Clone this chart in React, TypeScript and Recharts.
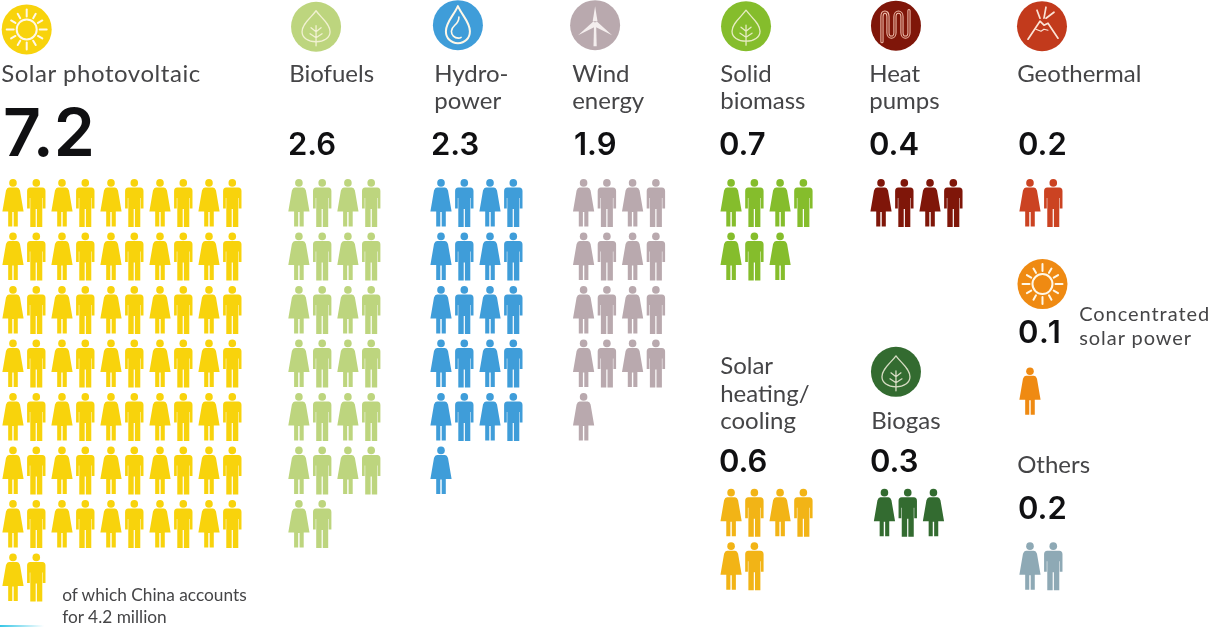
import React from "react";
import { Scatter, ScatterChart, XAxis, YAxis } from "recharts";

const WIDTH = 1217;
const HEIGHT = 627;
const COL_PITCH = 24.5;
const ROW_PITCH = 53.5;

// millions of jobs, one figure per person = 0.1 million
const categories = [
  "Solar photovoltaic",
  "Biofuels",
  "Hydropower",
  "Wind energy",
  "Solid biomass",
  "Heat pumps",
  "Geothermal",
  "Solar heating/cooling",
  "Biogas",
  "Concentrated solar power",
  "Others",
];
const jobLabels = ["7.2", "2.6", "2.3", "1.9", "0.7", "0.4", "0.2", "0.6", "0.3", "0.1", "0.2"];
const peopleDrawn = [72, 26, 21, 17, 7, 4, 2, 6, 3, 1, 2];
const peoplePerRow = [10, 4, 4, 4, 4, 4, 4, 4, 4, 4, 4];

// where each block of people starts, in axis units (columns, rows)
const firstColumn = [0.53, 12.2, 18.0, 23.82, 29.84, 35.96, 42.04, 29.84, 36.1, 42.04, 42.04];
const firstRow = [3.83, 3.83, 3.83, 3.83, 3.83, 3.83, 3.83, 9.62, 9.62, 7.35, 10.62];

const colors = [
  "#f8d30c",
  "#bdd57e",
  "#3f9dd9",
  "#b9a9ae",
  "#85bd2c",
  "#7f1609",
  "#cb4322",
  "#f2b416",
  "#336b30",
  "#ef8a12",
  "#8ea9b5",
];

const iconKinds = ["sun", "leaf", "drop", "turbine", "leaf", "heat", "volcano", "sun", "leaf"];
const iconCategory = [0, 1, 2, 3, 4, 5, 6, 9, 8];
const iconColumn = [1.09, 12.9, 18.69, 24.29, 30.45, 36.57, 42.53, 42.55, 36.57];
const iconRow = [0.55, 0.5, 0.47, 0.47, 0.49, 0.48, 0.49, 5.31, 6.95];
const iconColors = ["#f8d30c", "#bdd57e", "#3f9dd9", "#b9a9ae", "#85bd2c", "#7f1609", "#c23a1c", "#ef8a12", "#336b30"];

const people = categories.map((name, c) =>
  Array.from({ length: peopleDrawn[c] }, (_, i) => ({
    name,
    col: firstColumn[c] + (i % peoplePerRow[c]),
    row: firstRow[c] + Math.floor(i / peoplePerRow[c]),
    female: i % 2 === 0,
  })),
);

const icons = iconKinds.map((kind, i) => ({
  kind,
  name: categories[iconCategory[i]],
  col: iconColumn[i],
  row: iconRow[i],
  fill: iconColors[i],
}));

function Person({ cx, cy, payload, fill }: any) {
  if (payload.female) {
    return (
      <g transform={`translate(${cx},${cy})`} fill={fill}>
        <circle cx={0} cy={-22} r={3.8} />
        <path d="M-4,-17.5 L4,-17.5 Q6,-17.5 7,-14.5 L10.6,6.5 L4.8,6.5 L4.8,21.5 L0.7,21.5 L0.7,7 L-0.7,7 L-0.7,21.5 L-4.8,21.5 L-4.8,6.5 L-10.6,6.5 L-7,-14.5 Q-6,-17.5 -4,-17.5 Z" />
      </g>
    );
  }
  return (
    <g transform={`translate(${cx - 1.2},${cy})`} fill={fill}>
      <circle cx={0} cy={-22} r={3.8} />
      <path d="M-6,-17.5 L6,-17.5 Q9.2,-17.5 9.2,-14 L9.2,3.5 L6.5,3.5 L6.5,-7 L6,-7 L6,22 L0.6,22 L0.6,4 L-0.6,4 L-0.6,22 L-6,22 L-6,-7 L-6.5,-7 L-6.5,3.5 L-9.2,3.5 L-9.2,-14 Q-9.2,-17.5 -6,-17.5 Z" />
    </g>
  );
}

const RAY_ANGLES = [0, 30, 60, 90, 120, 150, 180, 210, 240, 270, 300, 330];

function Glyph({ kind }: { kind: string }) {
  const line = { fill: "none", stroke: "#fff8e8", strokeWidth: 1.7, strokeLinecap: "round", strokeLinejoin: "round" } as const;
  if (kind === "sun") {
    return (
      <g {...line}>
        <circle r={10} strokeWidth={2} />
        {RAY_ANGLES.map((a) => (
          <line key={a} y1={-13} y2={a % 90 === 0 ? -20 : -18} transform={`rotate(${a})`} strokeWidth={2} />
        ))}
      </g>
    );
  }
  if (kind === "leaf") {
    return (
      <g {...line} strokeWidth={1.3} opacity={0.8}>
        <path d="M0,-16 C5,-9 14,-3 14,5 C14,11 8,15 0,15 C-8,15 -14,11 -14,5 C-14,-3 -5,-9 0,-16 Z" />
        <path d="M0,-1 L0,19 M0,5 L5,1 M0,5 L-5,1 M0,11 L6,7 M0,11 L-6,7" />
      </g>
    );
  }
  if (kind === "drop") {
    return (
      <g {...line} strokeWidth={2}>
        <path d="M0,-19 C4,-10 12,-3 12,6 C12,13 7,18 0,18 C-7,18 -12,13 -12,6 C-12,-3 -4,-10 0,-19 Z" />
        <path d="M-6.5,6 C-6.5,10 -3.5,13 0.5,13 C1.5,13 2.5,12.8 3.2,12.3 M1,-8 C1,0 -6.5,0 -6.5,6" strokeWidth={1.6} />
      </g>
    );
  }
  if (kind === "turbine") {
    return (
      <g fill="#f4eeee" stroke="none">
        <path d="M-1,-3 L1,-3 L1.6,21 L-1.6,21 Z" />
        <path d="M-2.4,-4 L0,-19 L2.4,-4 Z" />
        <path d="M1.5,-4 L17,10 L-1,1 Z" />
        <path d="M-1.5,-4 L-17,10 L1,1 Z" />
      </g>
    );
  }
  if (kind === "heat") {
    const tube = "M-14,16 L-14,-9 C-14,-15 -8,-15 -8,-9 L-8,7 C-8,13 -1,13 -1,7 L-1,-9 C-1,-15 6,-15 6,-9 L6,7 C6,13 13,13 13,7 L13,-15";
    return (
      <g fill="none" strokeLinecap="round" strokeLinejoin="round">
        <path d={tube} stroke="#f0bfae" strokeWidth={3.2} />
        <path d={tube} stroke="#8a2414" strokeWidth={1.2} />
      </g>
    );
  }
  return (
    <g {...line} stroke="#fbe3d6">
      <path d="M-14,13 L-2,-5 L2,-1 L6,-3 L16,12" />
      <path d="M-2,-8 L-5,-16 M2,-8 L4,-19 M4,-8 L12,-14" />
      <path d="M-6,3 L-1,5 L2,3 L6,4" strokeWidth={1.2} />
    </g>
  );
}

function Icon({ cx, cy, payload }: any) {
  return (
    <g transform={`translate(${cx},${cy})`}>
      <circle r={25} fill={payload.fill} />
      <Glyph kind={payload.kind} />
    </g>
  );
}

const labelFont = "Lato, 'Noto Sans', sans-serif";
const figureFont = "Inter, 'Noto Sans', sans-serif";

function Label({ x, y, size = 24, spacing = 0, children }: any) {
  return (
    <text x={x - 0.8} y={y} fontFamily={labelFont} fontSize={size} letterSpacing={spacing} fill="#454547">
      {children}
    </text>
  );
}

function Figure({ x, y, size = 31, weight = 600, spacing = 0, children }: any) {
  return (
    <text x={x} y={y} fontFamily={figureFont} fontSize={size} fontWeight={weight} letterSpacing={spacing} fill="#101012">
      {children}
    </text>
  );
}

export default function App() {
  return (
    <div style={{ position: "absolute", left: 0, top: 0, width: WIDTH, height: HEIGHT, background: "#fff", filter: "blur(0.4px)" }}>
      <ScatterChart width={WIDTH} height={HEIGHT} margin={{ top: 0, right: 0, bottom: 0, left: 0 }}>
        <defs>
          <linearGradient id="edgeFade" x1="0" x2="1" y1="0" y2="0">
            <stop offset="0" stopColor="#35c6e6" />
            <stop offset="1" stopColor="#35c6e6" stopOpacity={0} />
          </linearGradient>
        </defs>
        <rect x={0} y={625} width={44} height={2} fill="url(#edgeFade)" />
        <XAxis type="number" dataKey="col" hide domain={[0, WIDTH / COL_PITCH]} />
        <YAxis type="number" dataKey="row" hide reversed domain={[0, HEIGHT / ROW_PITCH]} />
        {people.map((data, c) => (
          <Scatter
            key={categories[c]}
            name={categories[c]}
            data={data}
            isAnimationActive={false}
            shape={(props: any) => <Person {...props} fill={colors[c]} />}
          />
        ))}
        <Scatter name="icons" data={icons} isAnimationActive={false} shape={(props: any) => <Icon {...props} />} />

        <Label x={2} y={82} spacing={0.55}>Solar photovoltaic</Label>
        <Label x={290} y={82}>Biofuels</Label>
        <Label x={435} y={82}>Hydro-</Label>
        <Label x={435} y={109}>power</Label>
        <Label x={573} y={82}>Wind</Label>
        <Label x={573} y={109}>energy</Label>
        <Label x={721} y={82}>Solid</Label>
        <Label x={721} y={109}>biomass</Label>
        <Label x={870} y={82}>Heat</Label>
        <Label x={870} y={109}>pumps</Label>
        <Label x={1018} y={82}>Geothermal</Label>
        <Label x={721} y={374}>Solar</Label>
        <Label x={721} y={402}>heating/</Label>
        <Label x={721} y={429}>cooling</Label>
        <Label x={872} y={429}>Biogas</Label>
        <Label x={1018} y={473}>Others</Label>
        <Label x={1080} y={321} size={20} spacing={0.95}>Concentrated</Label>
        <Label x={1080} y={345} size={20} spacing={0.95}>solar power</Label>
        <Label x={63} y={601} size={17.3}>of which China accounts</Label>
        <Label x={63} y={623} size={17.3}>for 4.2 million</Label>

        <Figure x={3} y={156} size={66}>{jobLabels[0]}</Figure>
        <Figure x={288} y={155}>{jobLabels[1]}</Figure>
        <Figure x={431} y={155}>{jobLabels[2]}</Figure>
        <Figure x={574} y={155}>{jobLabels[3]}</Figure>
        <Figure x={719} y={155}>{jobLabels[4]}</Figure>
        <Figure x={869} y={155}>{jobLabels[5]}</Figure>
        <Figure x={1018} y={155}>{jobLabels[6]}</Figure>
        <Figure x={719} y={472}>{jobLabels[7]}</Figure>
        <Figure x={870} y={472}>{jobLabels[8]}</Figure>
        <Figure x={1018} y={343} spacing={1.5}>{jobLabels[9]}</Figure>
        <Figure x={1018} y={519}>{jobLabels[10]}</Figure>
      </ScatterChart>
    </div>
  );
}
